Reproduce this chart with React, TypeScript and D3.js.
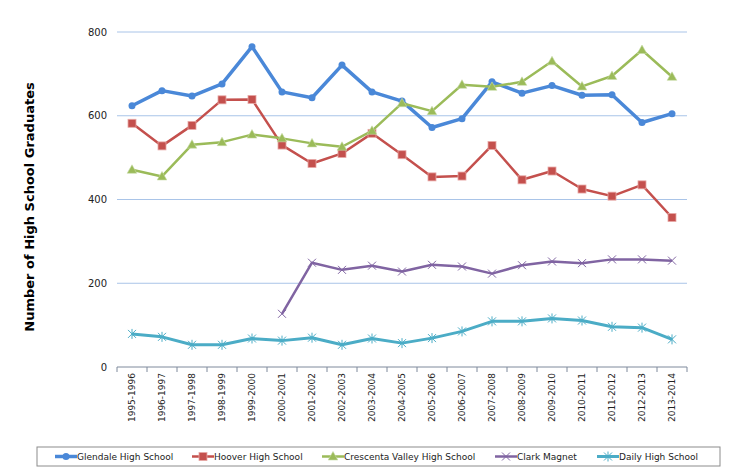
import React from "react";
import * as d3 from "d3";

const categories = [
  "1995-1996", "1996-1997", "1997-1998", "1998-1999", "1999-2000",
  "2000-2001", "2001-2002", "2002-2003", "2003-2004", "2004-2005",
  "2005-2006", "2006-2007", "2007-2008", "2008-2009", "2009-2010",
  "2010-2011", "2011-2012", "2012-2013", "2013-2014",
];

const glendale = [624, 660, 647, 676, 765, 657, 643, 721, 657, 635, 572, 593, 681, 654, 672, 649, 650, 584, 605];
const hoover = [582, 528, 577, 638, 639, 530, 486, 510, 558, 507, 454, 456, 529, 447, 468, 425, 408, 435, 357];
const crescenta = [471, 455, 531, 537, 555, 546, 534, 526, 564, 630, 611, 674, 669, 681, 730, 670, 695, 757, 693];
const clark: (number | null)[] = [null, null, null, null, null, 127, 249, 232, 242, 228, 244, 240, 223, 243, 252, 248, 257, 257, 254];
const daily = [79, 72, 53, 53, 68, 63, 70, 53, 68, 57, 69, 85, 109, 109, 116, 111, 96, 94, 66];

const yTicks = [0, 200, 400, 600, 800];
const seriesNames = ["Glendale High School", "Hoover High School", "Crescenta Valley High School", "Clark Magnet", "Daily High School"];

type Marker = "circle" | "square" | "triangle" | "x" | "star";
const seriesStyle: { color: string; width: number; marker: Marker; data: (number | null)[] }[] = [
  { color: "#4A88D8", width: 3.5, marker: "circle", data: glendale },
  { color: "#C4504D", width: 2.5, marker: "square", data: hoover },
  { color: "#9BBB59", width: 2.5, marker: "triangle", data: crescenta },
  { color: "#8064A2", width: 2.5, marker: "x", data: clark },
  { color: "#4BACC6", width: 3, marker: "star", data: daily },
];

const legendX = [55, 192, 322, 495, 597];

function MarkerShape({ type, color, x, y }: { type: Marker; color: string; x: number; y: number }) {
  switch (type) {
    case "circle":
      return <circle cx={x} cy={y} r={3.5} fill={color} />;
    case "square":
      return <rect x={x - 4} y={y - 4} width={8} height={8} fill={color} stroke="#E8A8A6" strokeWidth={0.8} />;
    case "triangle":
      return <path d={`M${x},${y - 5}L${x + 4.8},${y + 3.5}L${x - 4.8},${y + 3.5}Z`} fill={color} stroke="#C8DCA8" strokeWidth={0.6} />;
    case "x":
      return <path d={`M${x - 4},${y - 4}L${x + 4},${y + 4}M${x - 4},${y + 4}L${x + 4},${y - 4}`} stroke={color} strokeWidth={1} fill="none" />;
    case "star":
      return <path d={`M${x - 4},${y - 4}L${x + 4},${y + 4}M${x - 4},${y + 4}L${x + 4},${y - 4}M${x},${y - 5}L${x},${y + 5}`} stroke={color} strokeWidth={1} fill="none" />;
  }
}

export default function App() {
  const W = 750, H = 475;
  const left = 117, right = 687, top = 32, bottom = 367;
  const x = d3.scaleBand<string>().domain(categories).range([left, right]);
  const y = d3.scaleLinear().domain([0, 800]).range([bottom, top]);
  const cx = (c: string) => (x(c) as number) + x.bandwidth() / 2;
  const font = "'DejaVu Sans', Verdana, sans-serif";

  const line = d3
    .line<number | null>()
    .defined((d) => d !== null)
    .x((_, i) => cx(categories[i]))
    .y((d) => y(d as number));

  const boundaries = categories.map((c) => x(c) as number).concat([right]);

  return (
    <svg width={W} height={H} style={{ position: "absolute", left: 0, top: 0, background: "#fff" }} fontFamily={font}>
      {yTicks.filter((t) => t > 0).map((t) => (
        <line key={t} x1={left} x2={right} y1={y(t)} y2={y(t)} stroke="#A9C4E8" strokeWidth={1} />
      ))}
      {yTicks.map((t) => (
        <text key={t} x={107} y={y(t)} dy="0.35em" textAnchor="end" fontSize={10} fill="#222">
          {t}
        </text>
      ))}
      <line x1={left} x2={right} y1={bottom} y2={bottom} stroke="#7F8A9C" strokeWidth={1} />
      {boundaries.map((b, i) => (
        <line key={i} x1={b} x2={b} y1={bottom} y2={bottom + 5} stroke="#7F8A9C" strokeWidth={1} />
      ))}
      {categories.map((c) => (
        <text key={c} transform={`translate(${cx(c)},373) rotate(-90)`} dy="0.35em" textAnchor="end" fontSize={9} fill="#222">
          {c}
        </text>
      ))}
      <text transform="translate(29,207) rotate(-90)" dy="0.35em" textAnchor="middle" fontSize={13} fontWeight="bold" fill="#000">
        Number of High School Graduates
      </text>
      {seriesStyle.map((s, si) => (
        <g key={si}>
          <path d={line(s.data) || ""} fill="none" stroke={s.color} strokeWidth={s.width} strokeLinejoin="round" />
          {s.data.map((v, i) =>
            v === null ? null : <MarkerShape key={i} type={s.marker} color={s.color} x={cx(categories[i])} y={y(v)} />
          )}
        </g>
      ))}
      <rect x={37} y={447} width={683} height={19} fill="#fff" stroke="#8C8C8C" strokeWidth={1} />
      {seriesStyle.map((s, si) => (
        <g key={si}>
          <line x1={legendX[si]} x2={legendX[si] + 22} y1={456.5} y2={456.5} stroke={s.color} strokeWidth={s.width} />
          <MarkerShape type={s.marker} color={s.color} x={legendX[si] + 11} y={456.5} />
          <text x={legendX[si] + 22} y={456.5} dy="0.35em" fontSize={9} fill="#222">
            {seriesNames[si]}
          </text>
        </g>
      ))}
    </svg>
  );
}
